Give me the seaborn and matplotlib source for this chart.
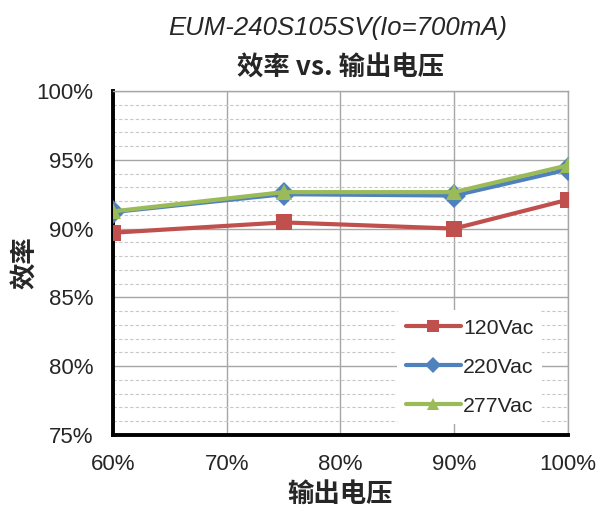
import pandas as pd
import matplotlib
matplotlib.use('Agg')
import matplotlib.pyplot as plt
import seaborn as sns
from matplotlib.ticker import MultipleLocator, PercentFormatter

# datos
voltaje = [60, 75, 90, 100]
eff_120 = [89.7, 90.45, 90.0, 92.1]
eff_220 = [91.2, 92.5, 92.4, 94.3]
eff_277 = [91.25, 92.65, 92.65, 94.6]
series = ['120Vac', '220Vac', '277Vac']
colores = ['#C0504D', '#4F81BD', '#9BBB59']
marcadores = ['s', 'D', '^']

df = pd.concat([
    pd.DataFrame({'v': voltaje, 'eff': eff_120, 'serie': series[0]}),
    pd.DataFrame({'v': voltaje, 'eff': eff_220, 'serie': series[1]}),
    pd.DataFrame({'v': voltaje, 'eff': eff_277, 'serie': series[2]}),
])

sns.set_style('white')
plt.rcParams['font.family'] = ['Liberation Sans', 'Noto Sans CJK SC', 'DejaVu Sans']
cjk = ['Noto Sans CJK SC', 'Liberation Sans']

fig = plt.figure(figsize=(5.99, 5.08), dpi=100)
ax = fig.add_axes([0.1886, 0.1437, 0.7596, 0.6772])

sns.lineplot(data=df, x='v', y='eff', hue='serie', style='serie',
             palette=colores, markers=marcadores, dashes=False,
             linewidth=3.0, markersize=12, markeredgewidth=0, ax=ax, zorder=3)

ax.set_xlim(60, 100)
ax.set_ylim(75, 100)
ax.xaxis.set_major_locator(MultipleLocator(10))
ax.yaxis.set_major_locator(MultipleLocator(5))
ax.yaxis.set_minor_locator(MultipleLocator(1))
ax.xaxis.set_major_formatter(PercentFormatter(decimals=0))
ax.yaxis.set_major_formatter(PercentFormatter(decimals=0))

ax.grid(which='major', color='#A6A6A6', linewidth=1.0, linestyle='-')
ax.grid(which='minor', axis='y', color='#C8C8C8', linewidth=0.8, linestyle=(0, (3, 2)))
ax.set_axisbelow(True)

for lado in ['top', 'right']:
    ax.spines[lado].set_color('#A6A6A6')
    ax.spines[lado].set_linewidth(1.0)
for lado in ['left', 'bottom']:
    ax.spines[lado].set_color('black')
    ax.spines[lado].set_linewidth(2.8)

ax.tick_params(which='major', direction='in', length=5, width=2.5, color='black',
               labelsize=16)
ax.tick_params(which='minor', length=0)
ax.tick_params(axis='y', pad=14)
ax.tick_params(axis='x', pad=14)

ax.set_xlabel('输出电压', fontsize=19, fontweight='bold', family=cjk, labelpad=4)
ax.set_ylabel('效率', fontsize=19, fontweight='bold', family=cjk)
ax.yaxis.set_label_coords(-0.162, 0.5)

fig.text(0.563, 0.945, 'EUM-240S105SV(Io=700mA)', ha='center', va='center',
         fontsize=18.5, style='italic')
fig.text(0.568, 0.866, '效率 vs. 输出电压', ha='center', va='center',
         fontsize=19, fontweight='bold', family=cjk)

leg = ax.legend(loc='lower right', bbox_to_anchor=(0.966, 0.0), frameon=True,
                fontsize=15.3, handlelength=2.6, handletextpad=0.1, labelspacing=0.95,
                borderpad=0.4, markerscale=0.7)
leg.get_frame().set_facecolor('white')
leg.get_frame().set_edgecolor('none')
leg.get_frame().set_alpha(1)

fig.savefig('out.png', dpi=100)
